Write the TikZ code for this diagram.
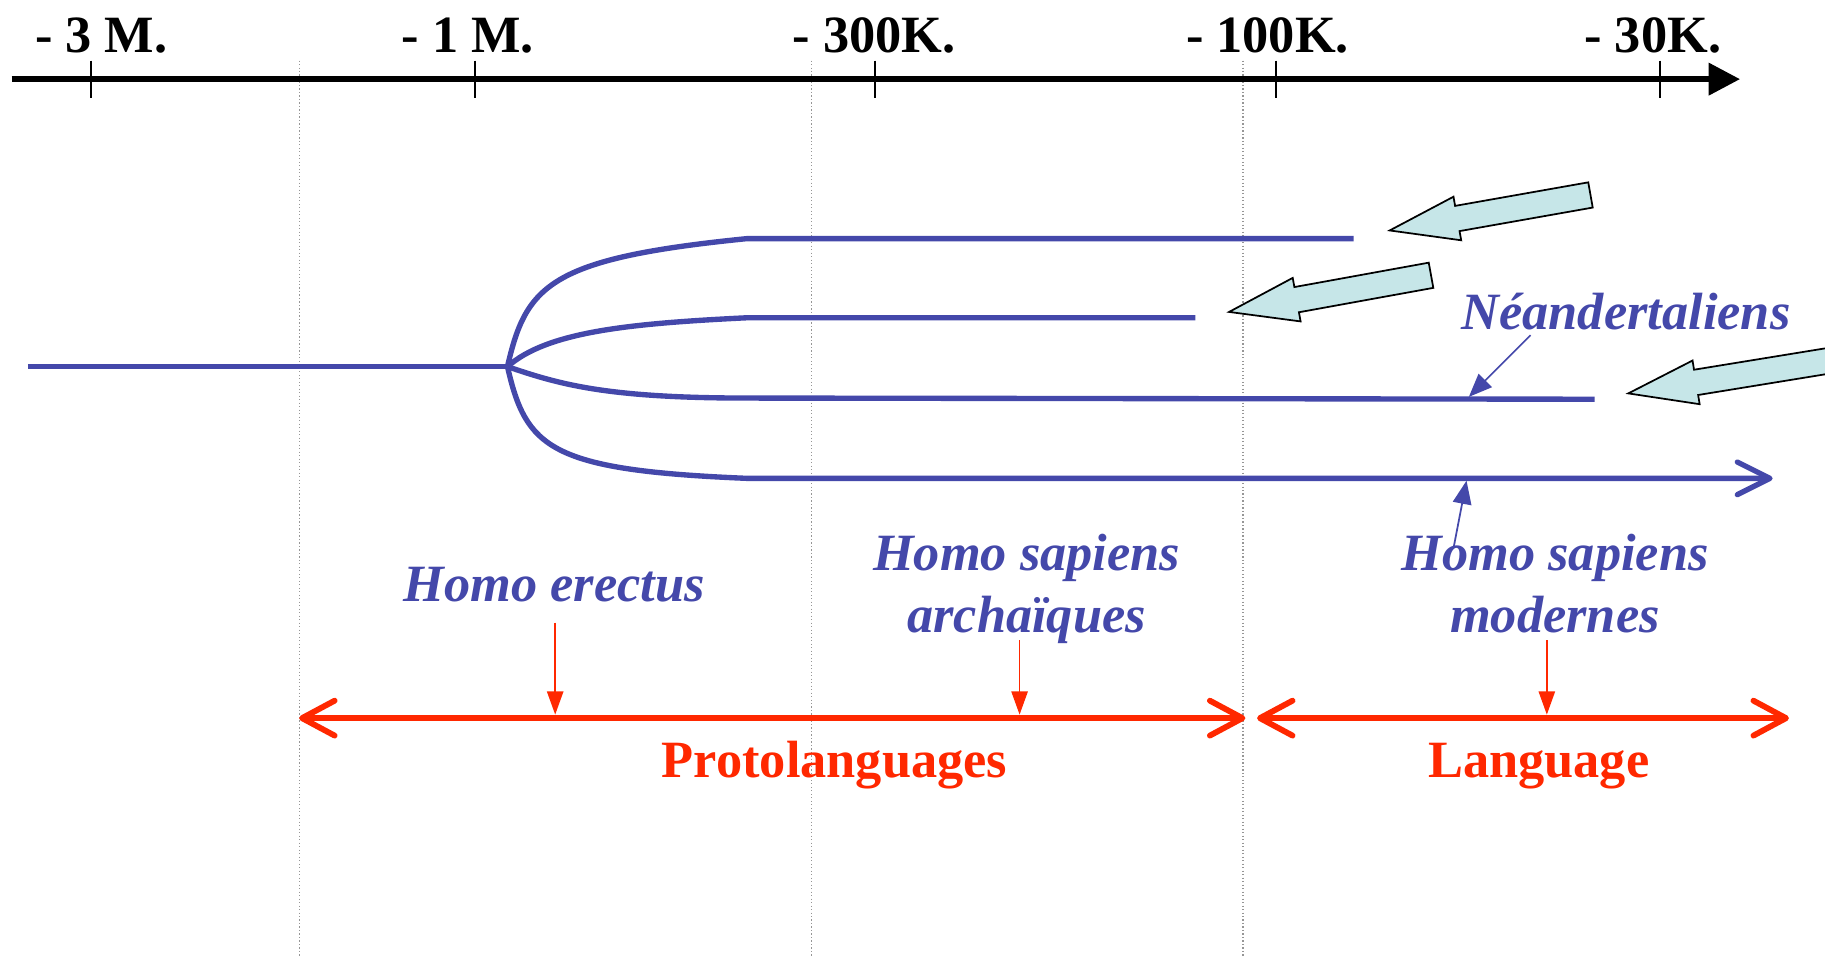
\documentclass[tikz,border=0pt]{standalone}
\usepackage{fontspec}
\setmainfont{Liberation Serif}
\usetikzlibrary{arrows.meta,calc}
\definecolor{hblue}{RGB}{68,72,170}
\definecolor{hred}{RGB}{255,40,0}
\definecolor{hcyan}{RGB}{198,230,232}
\definecolor{hgray}{RGB}{150,150,150}
\newcommand\cyanarrow[2]{%
  \draw[blockarrow] (#1)
    -- ($(#1)!59pt!(#2)!19pt!90:(#2)$)
    -- ($(#1)!59pt!(#2)!11pt!90:(#2)$)
    -- ($(#2)!11pt!-90:(#1)$)
    -- ($(#2)!11pt!90:(#1)$)
    -- ($(#1)!59pt!(#2)!11pt!-90:(#2)$)
    -- ($(#1)!59pt!(#2)!19pt!-90:(#2)$)
    -- cycle;}
\begin{document}
\begin{tikzpicture}[x=1pt,y=-1pt,
  axislabel/.style={font=\fontsize{45}{53}\selectfont\bfseries, anchor=base, inner sep=0pt},
  species/.style={font=\fontsize{45}{53}\selectfont\bfseries\itshape, text=hblue, align=center, inner sep=0pt},
  period/.style={font=\fontsize{45}{53}\selectfont\bfseries, text=hred, anchor=base, inner sep=0pt},
  tickmark/.style={line width=1.5pt},
  guide/.style={hgray, dotted, line width=1pt},
  lineage/.style={hblue, line width=4.6pt, line join=round},
  span/.style={hred, line width=5pt, {Straight Barb[length=28pt,width=30pt,round]}-{Straight Barb[length=28pt,width=30pt,round]}},
  redptr/.style={hred, line width=1.5pt, -{Triangle[length=20pt,width=14pt]}},
  blueptr/.style={hblue, line width=1.5pt, -{Triangle[length=20pt,width=16pt]}},
  blockarrow/.style={fill=hcyan, draw=black, line width=1.5pt, line join=miter},
]
\clip (0,0) rectangle (1568,821);
\fill[white] (0,0) rectangle (1568,821);

% guides
\foreach \gx in {257,697,1068} \draw[guide] (\gx,52) -- (\gx,821);

% time axis
\coordinate (axL) at (10,68);
\coordinate (axR) at (1495,68);
\draw[line width=5pt, -{Triangle[length=27pt,width=27pt]}] (axL) -- (axR);
\foreach \tx in {78,408,752,1096,1426} \draw[tickmark] (\tx,52) -- (\tx,84);
\node[axislabel] (t3m) at (87,45) {- 3 M.};
\node[axislabel] (t1m) at (402,45) {- 1 M.};
\node[axislabel] (t300) at (751,45) {- 300K.};
\node[axislabel] (t100) at (1089,45) {- 100K.};
\node[axislabel] (t30) at (1420,45) {- 30K.};

% lineages
\coordinate (root) at (24,315);
\coordinate (fork) at (436,315);
\coordinate (e1) at (1163,205);
\coordinate (e2) at (1027,273);
\coordinate (e3) at (1370,343);
\coordinate (e4) at (1523,411);
\draw[lineage] (root) -- (fork);
\draw[lineage] (fork) .. controls (452,245) and (472,222) .. (642,205) -- (e1);
\draw[lineage] (fork) .. controls (470,285) and (540,278) .. (642,273) -- (e2);
\draw[lineage] (fork) .. controls (480,330) and (520,342) .. (642,342) -- (e3);
\draw[lineage, -{Straight Barb[length=28pt,width=28pt,round]}] (fork)
  .. controls (452,385) and (472,404) .. (642,411) -- (e4);

% cyan arrows
\coordinate (a1tip) at (1194,198);
\coordinate (a1tail) at (1366.5,167.5);
\coordinate (a2tip) at (1056,268);
\coordinate (a2tail) at (1229.5,236.5);
\coordinate (a3tip) at (1399,338);
\coordinate (a3tail) at (1620,302);
\cyanarrow{a1tip}{a1tail}
\cyanarrow{a2tip}{a2tail}
\cyanarrow{a3tip}{a3tail}

% species labels
\node[species, anchor=base] (nean) at (1397,283) {Néandertaliens};
\coordinate (neanfrom) at (1315,288);
\coordinate (neanto) at (1262,341);
\draw[blueptr] (neanfrom) -- (neanto);

\node[species, anchor=base] (erectus) at (476,517) {Homo erectus};
\node[species, anchor=base] (archa) at (882,543) {Homo sapiens\\archaïques};
\node[species, anchor=base] (moder) at (1336,543) {Homo sapiens\\modernes};
\coordinate (modfrom) at (1249,470);
\coordinate (modto) at (1260,413);
\draw[blueptr] (modfrom) -- (modto);

% periods
\coordinate (p1L) at (257,617);
\coordinate (p1R) at (1070,617);
\coordinate (p2L) at (1080,617);
\coordinate (p2R) at (1537,617);
\draw[span] (p1L) -- (p1R);
\draw[span] (p2L) -- (p2R);
\coordinate (r1a) at (477,535);
\coordinate (r1b) at (477,614);
\coordinate (r2a) at (876,550);
\coordinate (r2b) at (876,614);
\coordinate (r3a) at (1329,550);
\coordinate (r3b) at (1329,614);
\draw[redptr] (r1a) -- (r1b);
\draw[redptr] (r2a) -- (r2b);
\draw[redptr] (r3a) -- (r3b);
\node[period] (proto) at (717,668) {Protolanguages};
\node[period] (lang) at (1322,668) {Language};
\end{tikzpicture}
\end{document}
